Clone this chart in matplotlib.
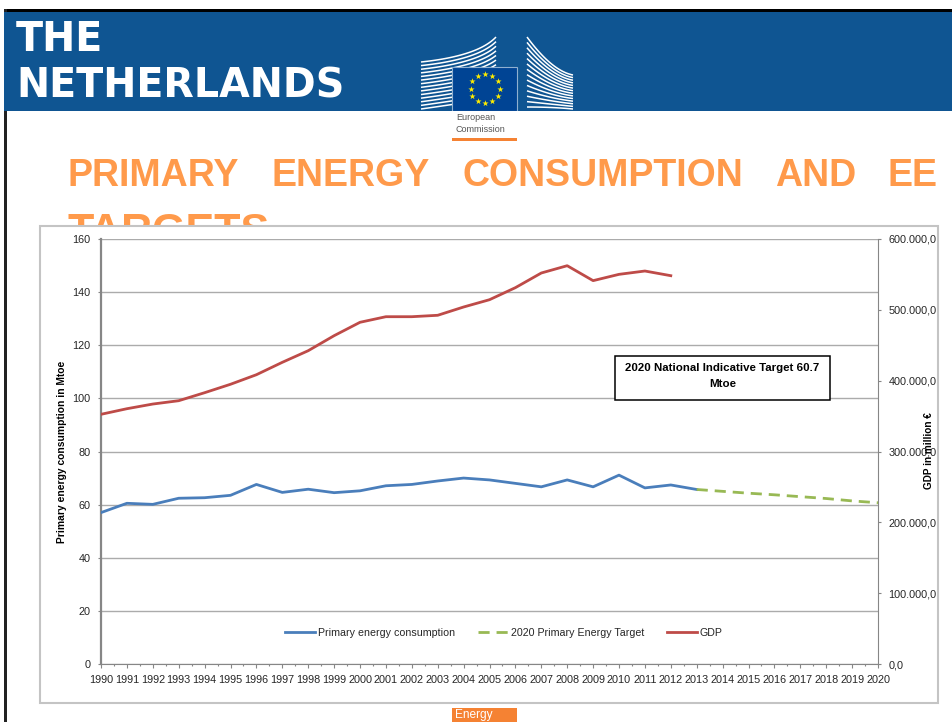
import numpy as np
import matplotlib
matplotlib.use("Agg")
import matplotlib.pyplot as plt
from matplotlib.patches import Rectangle

# data
years = list(range(1990, 2021))
primary_years = list(range(1990, 2014))
primary = [57.0, 60.5, 60.1, 62.4, 62.6, 63.5, 67.6, 64.6, 65.8, 64.5, 65.2, 67.1,
           67.6, 68.9, 70.0, 69.3, 68.0, 66.7, 69.3, 66.7, 71.1, 66.3, 67.4, 65.7]
target_years = list(range(2013, 2021))
target = [65.7, 65.0, 64.3, 63.7, 63.0, 62.3, 61.4, 60.7]
gdp_years = list(range(1990, 2013))
gdp = [352500, 360400, 367000, 371700, 383000, 394900, 408400, 425900, 442300, 463500,
       482400, 490300, 490300, 492300, 504000, 514300, 531300, 552000, 562300, 541200,
       550100, 554800, 548200]
left_ticks = [0, 20, 40, 60, 80, 100, 120, 140, 160]
right_ticks = [0, 100000, 200000, 300000, 400000, 500000, 600000]
right_labels = ["0,0", "100.000,0", "200.000,0", "300.000,0", "400.000,0", "500.000,0", "600.000,0"]
title_words = ["PRIMARY", "ENERGY", "CONSUMPTION", "AND", "EE"]
title_x = [68, 272, 462, 775, 888]

W, H = 952, 722
FONT = "Liberation Sans"
BANNER = "#0F5592"
ORANGE = "#FF9A4B"
TXT = "#262626"

fig = plt.figure(figsize=(W / 100, H / 100), dpi=100, facecolor="white")

# page furniture, in pixel coordinates
bg = fig.add_axes([0, 0, 1, 1], zorder=0)
bg.set_xlim(0, W)
bg.set_ylim(H, 0)
bg.axis("off")
bg.add_patch(Rectangle((4, 9), W, 3, color="black", lw=0))
bg.add_patch(Rectangle((4, 9), 2.5, H, color="#222222", lw=0))
bg.add_patch(Rectangle((4, 11.5), W, 99, color=BANNER, lw=0))
bg.text(16, 51, "THE", color="white", fontsize=28.5, fontweight="bold", family="DejaVu Sans", va="baseline")
bg.text(16, 98, "NETHERLANDS", color="white", fontsize=28.5, fontweight="bold", family="DejaVu Sans", va="baseline")

# logo: left and right wing of the building
t = np.linspace(0, 1, 40)
for i in range(14):
    k = i / 13
    x0, y0 = 421, 62 + k * 47
    x1, y1 = 478, 56 + k * 45
    x2, y2 = 496, 37 + k * 60
    xs = (1 - t) ** 2 * x0 + 2 * t * (1 - t) * x1 + t ** 2 * x2
    ys = (1 - t) ** 2 * y0 + 2 * t * (1 - t) * y1 + t ** 2 * y2
    bg.plot(xs, ys, color="white", lw=1.1, solid_capstyle="butt", zorder=3)
for i in range(14):
    k = i / 13
    x0, y0 = 527, 37 + k * 70
    x1, y1 = 552, 71 + k * 36
    x2, y2 = 573, 75 + k * 34
    xs = (1 - t) ** 2 * x0 + 2 * t * (1 - t) * x1 + t ** 2 * x2
    ys = (1 - t) ** 2 * y0 + 2 * t * (1 - t) * y1 + t ** 2 * y2
    bg.plot(xs, ys, color="white", lw=1.1, solid_capstyle="butt", zorder=3)
bg.add_patch(Rectangle((452, 67), 65, 44, fc="#004494", ec="#8FB0D0", lw=0.8, zorder=4))
for a in np.arange(0, 360, 30):
    bg.scatter(485 + 14.5 * np.sin(np.radians(a)), 88.5 - 14.5 * np.cos(np.radians(a)),
               marker="*", s=22, color="#FFED00", lw=0, zorder=5)
bg.add_patch(Rectangle((421, 111), 155, 4, color="white", lw=0, zorder=4))
bg.text(456, 118, "European", fontsize=6.5, color="#555555", family=FONT, va="center", zorder=5)
bg.text(456, 129, "Commission", fontsize=6.5, color="#555555", family=FONT, va="center", zorder=5)
bg.add_patch(Rectangle((452, 138), 65, 3, color="#F58233", lw=0))

for w, x in zip(title_words, title_x):
    bg.text(x, 186, w, color=ORANGE, fontsize=27, fontweight="bold", family=FONT, va="baseline")
bg.text(68, 243, "TARGETS", color=ORANGE, fontsize=31, fontweight="bold", family=FONT, va="baseline")

bg.add_patch(Rectangle((40, 226), 898, 477, fc="white", ec="#C4C4C4", lw=1.5, zorder=6))
bg.add_patch(Rectangle((452, 708), 65, 14, color="#F58233", lw=0))
bg.text(455, 715, "Energy", color="white", fontsize=8.6, family=FONT, va="center")

# chart
ax = fig.add_axes([101 / W, (H - 664) / H, 777 / W, 425 / H], zorder=2)
ax.patch.set_alpha(0)
ax.set_xlim(1990, 2020)
ax.set_ylim(0, 160)
ax.set_yticks(left_ticks)
ax.set_xticks(years)
ax.set_xticks(np.arange(1990.5, 2020, 1), minor=True)
ax.grid(axis="y", color="#ABABAB", lw=1)
ax.set_axisbelow(True)
l1, = ax.plot(primary_years, primary, color="#4A7EBB", lw=2, label="Primary energy consumption", zorder=3)
l2, = ax.plot(target_years, target, color="#98B954", lw=2, ls=(0, (4, 2.5)), label="2020 Primary Energy Target", zorder=3)
ax.tick_params(axis="y", length=2.5, width=0.8, color="#868686", pad=5, labelsize=7.8, labelcolor=TXT)
ax.tick_params(axis="x", which="major", length=3, width=0.8, color="#868686", pad=5, labelsize=7.8, labelcolor=TXT)
ax.tick_params(axis="x", which="minor", length=1.5, width=0.8, color="#868686")
for lab in ax.get_xticklabels() + ax.get_yticklabels():
    lab.set_family(FONT)
ax.spines["top"].set_visible(False)
ax.spines["left"].set_color("#868686")
ax.spines["left"].set_linewidth(1.6)
ax.spines["bottom"].set_color("#868686")
ax.spines["right"].set_color("#868686")

ax2 = ax.twinx()
ax2.patch.set_alpha(0)
ax2.set_ylim(0, 600000)
ax2.set_yticks(right_ticks)
ax2.set_yticklabels(right_labels, family=FONT)
l3, = ax2.plot(gdp_years, gdp, color="#BE4B48", lw=2, label="GDP", zorder=3)
ax2.tick_params(axis="y", length=2.5, width=0.8, color="#868686", pad=5, labelsize=7.8, labelcolor=TXT)
for s in ax2.spines.values():
    s.set_visible(False)

leg = ax2.legend(handles=[l1, l2, l3], ncol=3, frameon=False, loc="center",
                 bbox_to_anchor=(504 / W, (H - 633) / H), bbox_transform=fig.transFigure,
                 prop={"family": FONT, "size": 7.7}, labelcolor=TXT, handlelength=2.8,
                 handletextpad=0.28, columnspacing=2.1, borderpad=0, borderaxespad=0)

# axis titles and the note box sit on top of everything
top = fig.add_axes([0, 0, 1, 1], zorder=5)
top.set_xlim(0, W)
top.set_ylim(H, 0)
top.axis("off")
top.text(62, 452, "Primary energy consumption in Mtoe", rotation=90, ha="center", va="center",
         fontsize=7.4, fontweight="bold", family=FONT, color="black")
top.text(929, 451, "GDP in million €", rotation=90, ha="center", va="center",
         fontsize=7.2, fontweight="bold", family=FONT, color="black")
top.add_patch(Rectangle((615, 356), 215, 44, fc="white", ec="black", lw=1.1))
top.text(722.5, 368, "2020 National Indicative Target 60.7", ha="center", va="center",
         fontsize=8.25, fontweight="bold", family=FONT, color="black")
top.text(722.5, 384, "Mtoe", ha="center", va="center",
         fontsize=8.25, fontweight="bold", family=FONT, color="black")

fig.savefig("out.png", dpi=100)
